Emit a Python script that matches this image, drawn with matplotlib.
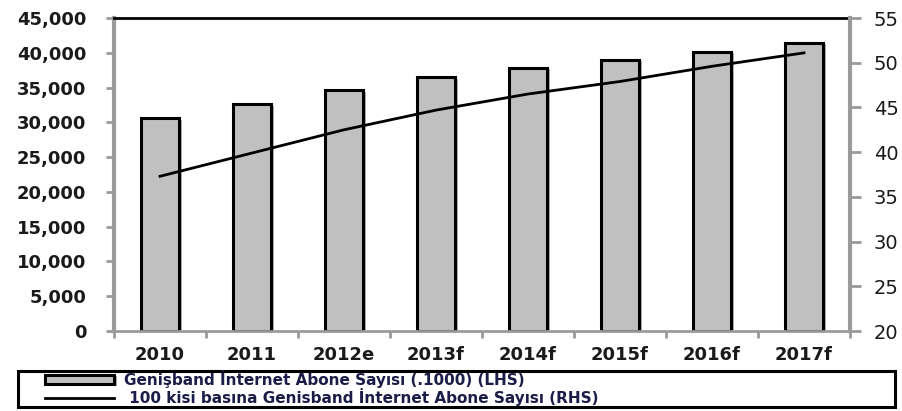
import numpy as np
import matplotlib
matplotlib.use("Agg")
import matplotlib.pyplot as plt
import matplotlib.patheffects as pe
from matplotlib.patches import Rectangle
from matplotlib.ticker import FuncFormatter, FixedLocator

years = ["2010", "2011", "2012e", "2013f", "2014f", "2015f", "2016f", "2017f"]
subscribers = [30600, 32600, 34600, 36500, 37800, 39000, 40100, 41400]   # LHS, x1000
per_100 = [37.3, 39.9, 42.5, 44.7, 46.5, 47.9, 49.6, 51.1]               # RHS

bar_label = "Genişband İnternet Abone Sayısı (.1000) (LHS)"
line_label = " 100 kisi basına Genisband İnternet Abone Sayısı (RHS)"

plt.rcParams['font.family'] = ['DejaVu Sans']

fig = plt.figure(figsize=(9.03, 4.11), dpi=100)
ax = fig.add_axes([114/903, 1-331/411, (850-114)/903, (331-18)/411])
ax2 = ax.twinx()

x = np.arange(len(years))
bars = ax.bar(x, subscribers, width=0.42, color='#c0c0c0', edgecolor='black',
              linewidth=2.2, label=bar_label)
for b in bars:
    b.set_path_effects([pe.SimplePatchShadow(offset=(2, -1), shadow_rgbFace='#999999', alpha=0.8),
                        pe.Normal()])
line, = ax2.plot(x, per_100, color='black', linewidth=2.0, label=line_label)

ax.set_xlim(-0.5, len(years) - 0.5)
ax.set_ylim(0, 45000)
ax.set_yticks(np.arange(0, 45001, 5000))
ax.yaxis.set_major_formatter(FuncFormatter(lambda v, p: f"{int(v):,}"))
ax2.set_ylim(20, 55)
ax2.set_yticks(np.arange(20, 56, 5))

ax.set_xticks(x)
ax.set_xticklabels(years)
ax.xaxis.set_minor_locator(FixedLocator(np.arange(-0.5, len(years), 1)))

grey = '#9a9a9a'
ax.tick_params(axis='x', which='major', length=0, pad=11, labelsize=13, labelcolor='#1a1a1a')
ax.tick_params(axis='x', which='minor', length=5, width=2, color=grey, direction='out')
for t in ax.get_xticklabels():
    t.set_fontweight('bold')
ax.tick_params(axis='y', length=6, width=2, color=grey, pad=14, labelsize=13, labelcolor='#1a1a1a')
for t in ax.get_yticklabels():
    t.set_fontweight('bold')
ax2.tick_params(axis='y', length=8, width=2, color=grey, pad=9, labelsize=14, labelcolor='#1a1a1a')

ax.spines['left'].set_color(grey)
ax.spines['left'].set_linewidth(3)
ax.spines['bottom'].set_color(grey)
ax.spines['bottom'].set_linewidth(2)
ax.spines['top'].set_color('black')
ax.spines['top'].set_linewidth(2)
ax.spines['right'].set_visible(False)
for s in ['left', 'top', 'bottom']:
    ax2.spines[s].set_visible(False)
ax2.spines['right'].set_color(grey)
ax2.spines['right'].set_linewidth(3)

# legend frame spanning the full width
fig.patches.append(Rectangle((18/903, 1-407/411), (895-18)/903, 36/411,
                             transform=fig.transFigure, facecolor='white',
                             edgecolor='black', linewidth=2.2, zorder=0))
leg = fig.legend([bars, line], [bar_label, line_label],
                 loc='center left', bbox_to_anchor=(45/903, 1-388/411),
                 frameon=False, borderpad=0, labelspacing=0.0, handlelength=4.5,
                 handletextpad=0.7, borderaxespad=0, handleheight=0.6,
                 prop={'weight': 'bold', 'size': 11})
for t in leg.get_texts():
    t.set_color('#1c1c48')

fig.savefig('out.png', dpi=100)
